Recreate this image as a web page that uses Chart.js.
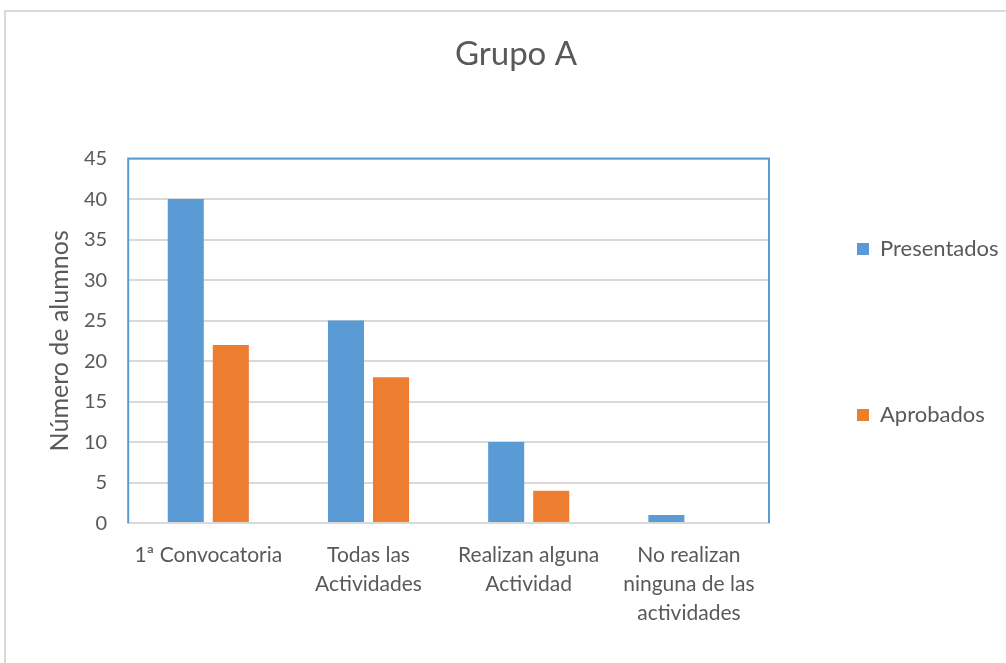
<!DOCTYPE html>
<html>
<head>
<meta charset="utf-8">
<script src="https://cdn.jsdelivr.net/npm/chart.js@4.4.1/dist/chart.umd.min.js"></script>
<style>
    body { margin: 0; background: #fff; }
    #GrupoChart { position: absolute; left: 0; top: 0; }
</style>
</head>
<body>
<canvas id="GrupoChart" width="1006" height="663"></canvas>
<script>
// Categorie e valori
const categories = [
    ['1ª Convocatoria'],
    ['Todas las', 'Actividades'],
    ['Realizan alguna', 'Actividad'],
    ['No realizan', 'ninguna de las', 'actividades']
];
const presentados = [40, 25, 10, 1];
const aprobados = [22, 18, 4, 0];

const fontFamily = 'Lato, "Open Sans", sans-serif';
const textColor = '#595959';
const legendGap = 144;

// Cornice grigia esterna del grafico
const outerFrame = {
    id: 'outerFrame',
    beforeDraw(chart) {
        const ctx = chart.ctx;
        ctx.save();
        ctx.strokeStyle = '#d9d9d9';
        ctx.lineWidth = 2;
        ctx.beginPath();
        ctx.moveTo(5, chart.height);
        ctx.lineTo(5, 11);
        ctx.lineTo(chart.width, 11);
        ctx.stroke();
        ctx.restore();
    }
};

// Bordo blu dell'area del grafico (sopra, sinistra, destra)
const plotBorder = {
    id: 'plotBorder',
    afterDraw(chart) {
        const { ctx, chartArea: a } = chart;
        ctx.save();
        ctx.strokeStyle = '#5b9bd5';
        ctx.lineWidth = 2;
        ctx.beginPath();
        ctx.moveTo(a.left, a.bottom);
        ctx.lineTo(a.left, a.top);
        ctx.lineTo(a.right, a.top);
        ctx.lineTo(a.right, a.bottom);
        ctx.stroke();
        ctx.restore();
    }
};

// Sposta legenda e titolo come nell'originale
const placeBoxes = {
    id: 'placeBoxes',
    afterLayout(chart) {
        const lg = chart.legend;
        lg.left = 857 - legendGap;
        lg.width = 420;
        lg.maxWidth = 420;
        lg.right = lg.left + lg.width;
        lg.top = 238 - legendGap;
        lg.bottom = lg.top + lg.height;
        const tb = chart.titleBlock;
        tb.left += 9;
        tb.right += 9;
    }
};

const barData = {
    labels: categories,
    datasets: [{
        label: 'Presentados',
        data: presentados,
        backgroundColor: '#5b9bd5'
    }, {
        label: 'Aprobados',
        data: aprobados,
        backgroundColor: '#ed7d31'
    }]
};

const barOptions = {
    responsive: false,
    animation: false,
    layout: { padding: { left: 45, right: 37, top: 10, bottom: 17 } },
    datasets: {
        bar: { categoryPercentage: 0.5625, barPercentage: 0.8 }
    },
    plugins: {
        title: {
            display: true,
            text: 'Grupo A',
            color: textColor,
            font: { family: fontFamily, size: 33, weight: 'normal', lineHeight: 1.2 },
            padding: { top: 25, bottom: 84 }
        },
        legend: {
            position: 'right',
            align: 'start',
            maxWidth: 200,
            labels: {
                color: textColor,
                font: { family: fontFamily, size: 22 },
                boxWidth: 12,
                boxHeight: 12,
                padding: legendGap
            }
        },
        tooltip: { enabled: false }
    },
    scales: {
        x: {
            grid: { display: false, drawTicks: false },
            border: { color: '#d9d9d9', width: 2 },
            ticks: {
                color: textColor,
                font: { family: fontFamily, size: 21, lineHeight: 1.38 },
                maxRotation: 0,
                autoSkip: false,
                padding: 18
            }
        },
        y: {
            min: 0,
            max: 45,
            grid: { color: '#d9d9d9', lineWidth: 2, drawTicks: false },
            border: { display: false },
            ticks: {
                stepSize: 5,
                color: textColor,
                font: { family: fontFamily, size: 20 },
                padding: 21
            },
            title: {
                display: true,
                text: 'Número de alumnos',
                color: textColor,
                font: { family: fontFamily, size: 25, lineHeight: 1.2 },
                padding: { top: 0, bottom: -12 }
            }
        }
    }
};

document.addEventListener('DOMContentLoaded', function() {
    const ctx = document.getElementById('GrupoChart').getContext('2d');
    new Chart(ctx, {
        type: 'bar',
        data: barData,
        options: barOptions,
        plugins: [outerFrame, plotBorder, placeBoxes]
    });
});
</script>
</body>
</html>
